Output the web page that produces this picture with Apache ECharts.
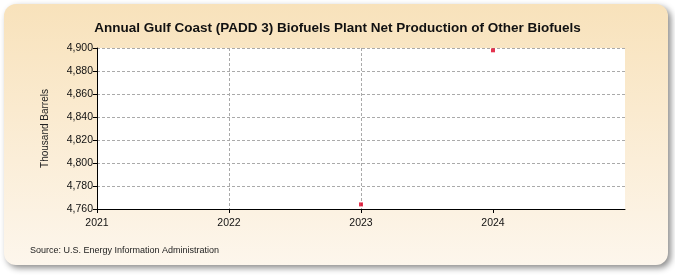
<!DOCTYPE html>
<html><head><meta charset="utf-8">
<script src="https://cdn.jsdelivr.net/npm/echarts@6/dist/echarts.min.js"></script>
<style>html,body{margin:0;padding:0;background:#fff}#c{width:675px;height:275px}</style>
</head><body><div id="c"></div>
<script>
const years = [2023, 2024];
const values = [4764, 4898];
const xTicks = [2021, 2022, 2023, 2024];
const yMin = 4760, yMax = 4900, yStep = 20;

const chart = echarts.init(document.getElementById('c'), null, {renderer: 'canvas'});
chart.setOption({
  animation: false,
  graphic: [
    {type: 'rect', z: -10, shape: {x: 4, y: 4, width: 664, height: 261, r: 12},
     style: {fill: new echarts.graphic.LinearGradient(0, 0, 0, 1, [{offset: 0, color: '#f8e2bb'}, {offset: 1, color: '#fdf6ec'}]),
       shadowBlur: 6, shadowOffsetX: 3, shadowOffsetY: 3, shadowColor: 'rgba(0,0,0,0.45)'}},
    {type: 'text', left: 30, top: 246, style: {text: 'Source: U.S. Energy Information Administration', font: '9px Arial, "Liberation Sans"', fill: '#222'}}
  ],
  title: {text: 'Annual Gulf Coast (PADD 3) Biofuels Plant Net Production of Other Biofuels', left: 'center', top: 16,
    textStyle: {fontSize: 13.5, fontWeight: 'bold', fontFamily: 'Arial, "Liberation Sans"', color: '#111'}},
  grid: {left: 97, right: 50, top: 48, bottom: 66, containLabel: false, show: true, backgroundColor: '#fff', borderWidth: 0},
  xAxis: {type: 'value', min: 2021, max: 2025, interval: 1,
    axisLine: {show: true, lineStyle: {color: '#000', width: 1}},
    axisTick: {show: true, length: 4, lineStyle: {color: '#000'}, customValues: xTicks},
    axisLabel: {color: '#111', fontSize: 10.5, fontFamily: 'Arial, "Liberation Sans"', margin: 9,
      customValues: xTicks, formatter: v => String(v)},
    splitLine: {show: true, showMaxLine: false, lineStyle: {color: '#aaa', type: [3, 2], width: 1}}
  },
  yAxis: {type: 'value', min: yMin, max: yMax, interval: yStep,
    name: 'Thousand Barrels', nameLocation: 'middle', nameGap: 47, nameRotate: 90,
    nameTextStyle: {fontSize: 10, fontFamily: 'Arial, "Liberation Sans"', color: '#222'},
    axisLine: {show: true, lineStyle: {color: '#000', width: 1}},
    axisTick: {show: true, length: 4, lineStyle: {color: '#000'}},
    axisLabel: {color: '#111', fontSize: 10.5, fontFamily: 'Arial, "Liberation Sans"', margin: 4,
      formatter: v => v.toLocaleString('en-US')},
    splitLine: {show: true, lineStyle: {color: '#aaa', type: [3, 2], width: 1}}
  },
  series: [{type: 'scatter', symbol: 'rect', symbolSize: 4, itemStyle: {color: '#dd0022'},
    data: years.map((y, i) => [y, values[i]])}]
});
</script></body></html>
